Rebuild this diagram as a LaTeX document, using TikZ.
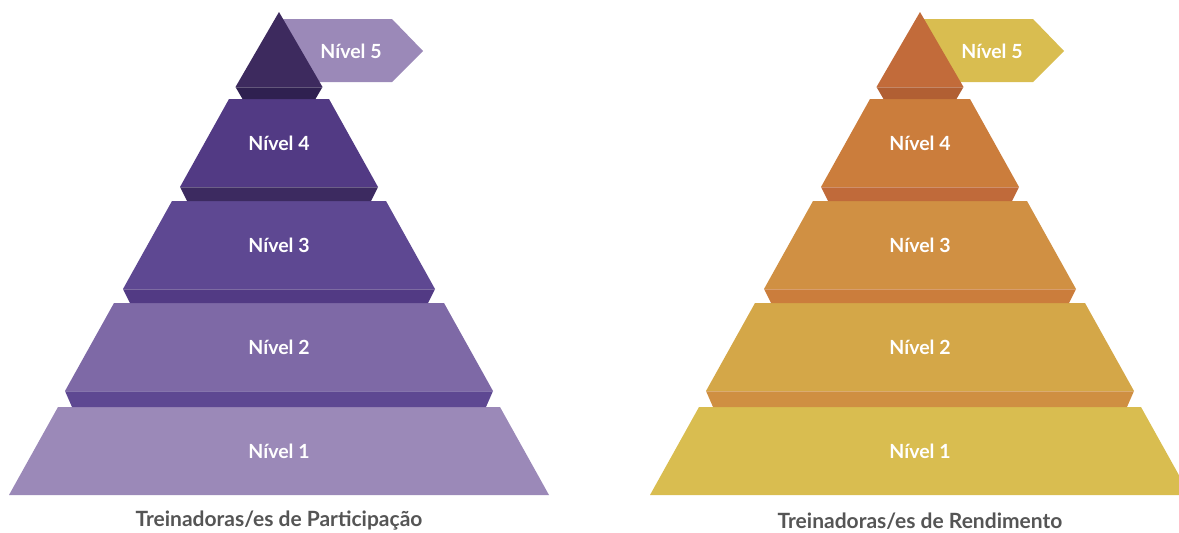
\documentclass[tikz,border=0pt]{standalone}
\usepackage{fontspec}
\setmainfont{Lato}
\usepackage{tikz}

% Farben
\definecolor{lila1}{HTML}{9B89B8}
\definecolor{lila2}{HTML}{7E69A6}
\definecolor{lila3}{HTML}{5E4892}
\definecolor{lila4}{HTML}{523A84}
\definecolor{lila5}{HTML}{3D2A5E}
\definecolor{lilaband2}{HTML}{5E4892}
\definecolor{lilaband3}{HTML}{523A84}
\definecolor{lilaband4}{HTML}{3C2A60}
\definecolor{lilaband5}{HTML}{2F2050}
\definecolor{ouro1}{HTML}{D9BD50}
\definecolor{ouro2}{HTML}{D4A748}
\definecolor{ouro3}{HTML}{D09043}
\definecolor{ouro4}{HTML}{CB7D3C}
\definecolor{ouro5}{HTML}{C26B3A}
\definecolor{ouroband2}{HTML}{CF8F42}
\definecolor{ouroband3}{HTML}{CB7D3C}
\definecolor{ouroband4}{HTML}{C06A3A}
\definecolor{ouroband5}{HTML}{B15F33}
\definecolor{legenda}{HTML}{555555}

% #1 Mitte, #2 Farbe, #3 Name, #4 Titel
\newcommand{\Pyramide}[4]{%
    \begin{scope}[xshift=#1pt]
        % Fahne
        \fill[#21] (4,19) -- (113,19) -- (144,51) -- (113,82) -- (4,82) -- cycle;
        \node[stufe] (#35) at (72,51) {Nível 5};
        % Spitze
        \fill[#25] (0,12) -- (43.5,87) -- (-43.5,87) -- cycle;
        % Stufen
        \foreach \n/\yt/\hw in {4/99/50, 3/201/107, 2/303/165, 1/407/221}{
            \fill[#2\n] (-\hw,\yt) -- (\hw,\yt) -- (\hw+49,\yt+88)
                        -- (-\hw-49,\yt+88) -- cycle;
            \node[stufe] (#3\n) at (0,\yt+44) {Nível \n};
        }
        % Kanten
        \foreach \n/\yt/\hw/\h in {5/87/43.5/12, 4/187/99/14, 3/289/156/14, 2/391/214/16}{
            \fill[#2band\n] (-\hw,\yt) -- (\hw,\yt) -- (\hw-7,\yt+\h)
                            -- (-\hw+7,\yt+\h) -- cycle;
            \draw[kante] (-\hw,\yt) -- (\hw,\yt);
        }
        \node[titel] (#3titel) at (0,521) {#4};
    \end{scope}}

\begin{document}
\begin{tikzpicture}[x=1pt, y=-1pt,
        stufe/.style={text=white, font=\fontsize{19.5}{22}\selectfont\bfseries},
        titel/.style={text=legenda, font=\fontsize{21}{24}\selectfont\bfseries},
        kante/.style={white, opacity=.25, line width=.8pt}
        ]
    \clip (0,0) rectangle (1179,533);

    \Pyramide{279}{lila}{p}{Treinadoras/es de Participação}
    \Pyramide{920}{ouro}{r}{Treinadoras/es de Rendimento}

\end{tikzpicture}
\end{document}
